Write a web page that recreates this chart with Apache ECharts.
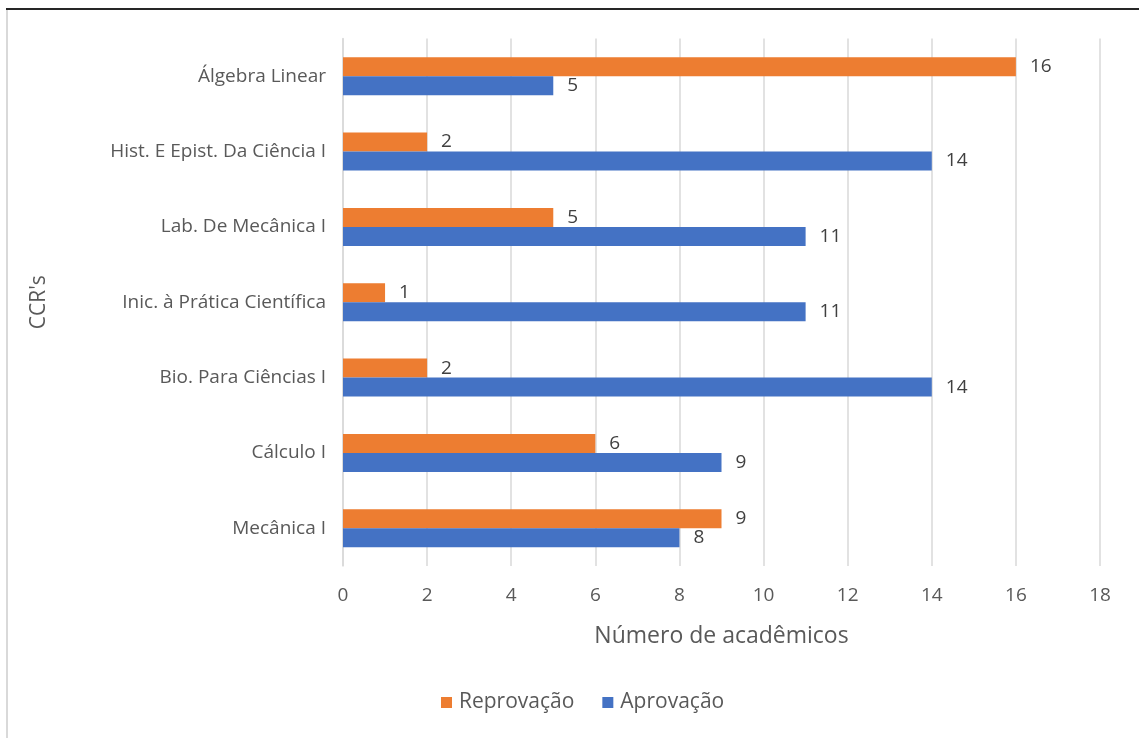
<!DOCTYPE html>
<html>
<head>
<meta charset="utf-8">
<script src="https://cdn.jsdelivr.net/npm/echarts@6/dist/echarts.min.js"></script>
<style>
  html, body { margin: 0; padding: 0; background: #ffffff; }
  #chart { width: 1139px; height: 738px; }
</style>
</head>
<body>
<div id="chart"></div>
<script>
// Curricular components, listed from the bottom of the axis upwards
const categories = [
  'Mecânica I',
  'Cálculo I',
  'Bio. Para Ciências I',
  'Inic. à Prática Científica',
  'Lab. De Mecânica I',
  'Hist. E Epist. Da Ciência I',
  'Álgebra Linear'
];
// Number of students per component
const reprovacao = [9, 6, 2, 1, 5, 2, 16];
const aprovacao = [8, 9, 14, 11, 11, 14, 5];
const seriesNames = ['Reprovação', 'Aprovação'];
const axisTitles = { x: 'Número de acadêmicos', y: "CCR's" };

const textColor = '#595959';
const gridColor = '#d9d9d9';
const font = '"Open Sans", "Noto Sans", sans-serif';

const chart = echarts.init(document.getElementById('chart'), null, { renderer: 'canvas' });

const valueLabel = {
  show: true,
  position: 'right',
  distance: 14,
  color: '#404040',
  fontSize: 19,
  fontFamily: font
};

chart.setOption({
  backgroundColor: '#ffffff',
  animation: false,
  textStyle: { fontFamily: font },
  grid: { left: 343, right: 39, top: 38.5, bottom: 172, containLabel: false },
  legend: {
    data: seriesNames,
    bottom: 20,
    left: 436,
    itemWidth: 11,
    itemHeight: 11,
    itemGap: 28,
    icon: 'rect',
    textStyle: { color: textColor, fontSize: 21, fontFamily: font, padding: [0, 0, 0, 2] }
  },
  xAxis: {
    type: 'value',
    min: 0,
    max: 18,
    interval: 2,
    name: axisTitles.x,
    nameLocation: 'middle',
    nameGap: 59,
    nameTextStyle: { color: textColor, fontSize: 23, fontFamily: font },
    axisLine: { show: false },
    axisTick: { show: false },
    axisLabel: { color: textColor, fontSize: 19, margin: 20, fontFamily: font },
    splitLine: { show: true, lineStyle: { color: gridColor, width: 1.5 } }
  },
  yAxis: {
    type: 'category',
    data: categories,
    name: axisTitles.y,
    nameLocation: 'middle',
    nameGap: 293,
    nameRotate: 90,
    nameTextStyle: { color: textColor, fontSize: 21, fontFamily: font },
    axisLine: { show: true, lineStyle: { color: gridColor, width: 1.5 } },
    axisTick: { show: false },
    axisLabel: { color: textColor, fontSize: 19, margin: 17, fontFamily: font }
  },
  series: [
    {
      name: seriesNames[0],
      type: 'bar',
      data: reprovacao,
      barWidth: 19,
      barGap: '0%',
      itemStyle: { color: '#ED7D31' },
      label: valueLabel
    },
    {
      name: seriesNames[1],
      type: 'bar',
      data: aprovacao,
      barWidth: 19,
      barGap: '0%',
      itemStyle: { color: '#4472C4' },
      label: valueLabel
    }
  ],
  graphic: [
    {
      type: 'line',
      shape: { x1: 6, y1: 9, x2: 1139, y2: 9 },
      style: { stroke: '#262626', lineWidth: 2 },
      silent: true
    },
    {
      type: 'line',
      shape: { x1: 7, y1: 10, x2: 7, y2: 738 },
      style: { stroke: '#d9d9d9', lineWidth: 2 },
      silent: true
    }
  ]
});
</script>
</body>
</html>
